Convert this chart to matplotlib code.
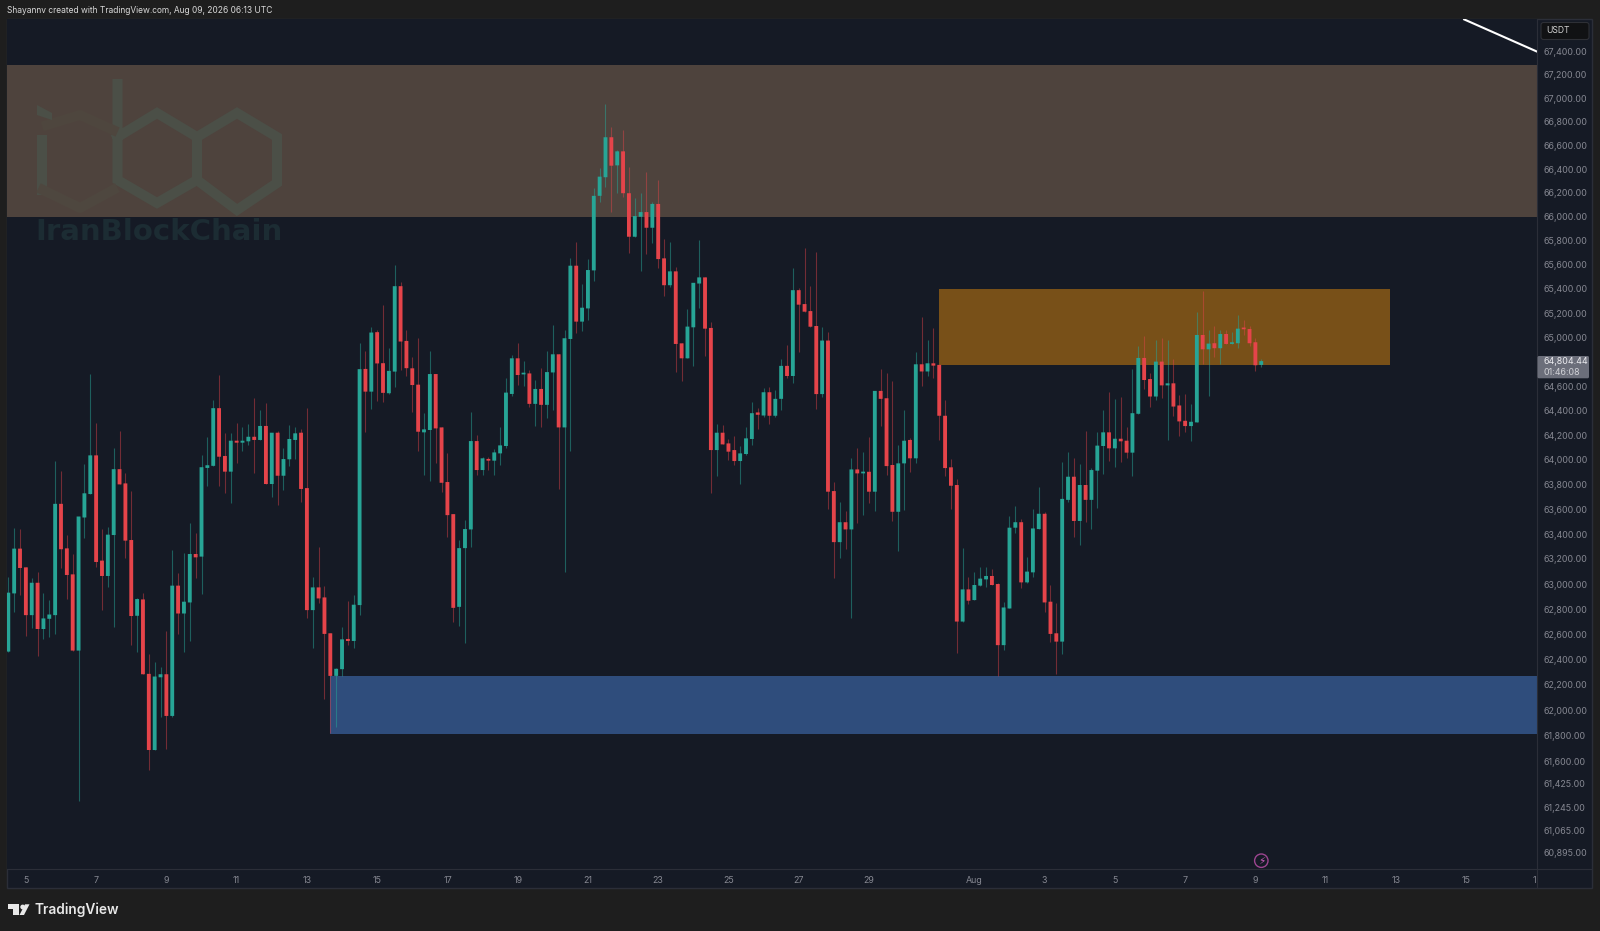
import matplotlib
matplotlib.use("Agg")
import matplotlib.pyplot as plt
import numpy as np
from matplotlib.patches import Rectangle, FancyBboxPatch, Circle, Polygon
from matplotlib.lines import Line2D
from matplotlib.transforms import Affine2D, Bbox

open_prices = [
62463,62925,63283,63133,62752,63010,62642,62723,62752,63643,
63285,63077,62471,63533,63722,64035,63187,63064,63392,63923,
63808,63352,62747,62877,62287,61689,62260,62284,61956,62987,
62765,62853,63240,63219,63933,63950,64419,64030,63903,64154,
64138,64149,64186,64160,64274,63803,64219,63870,64003,64160,
64219,63770,62792,62973,62893,62608,62271,62324,62563,62547,
62832,64740,64554,65042,64787,64541,64718,65422,64970,64745,
64611,64222,64241,64698,64262,63819,63560,62818,63287,63437,
64151,63916,64005,63992,64051,64111,64535,64827,64695,64703,
64454,64576,64446,64711,64860,64262,64986,65592,65129,65238,
65553,66175,66331,66668,66431,66549,66197,65833,66000,66039,
65908,66107,65653,65430,65545,64950,64827,65082,65444,65495,
65077,64078,64219,64132,64078,63989,64046,64168,64384,64359,
64549,64357,64495,64765,64682,65389,65274,65216,65093,64534,
64973,63746,63335,63495,63437,63921,63889,63902,63741,64560,
64500,63957,63579,63970,64160,64011,64778,64719,64786,64773,
64357,63938,63795,62701,62957,62872,62987,63037,63064,63000,
62514,62805,63451,63495,63013,63093,63440,63563,62859,62608,
62542,63675,63862,63505,63795,63675,63911,64111,64222,64092,
64170,64154,64057,64373,64830,64657,64514,64800,64605,64622,
64441,64316,64273,64303,65019,64901,64951,64910,65027,64945,
64951,65079,65068,64959,64773]

high_prices = [
63059,63451,63438,63133,63045,63093,62931,62872,63989,63911,
63392,63240,63541,63965,64699,64300,63438,63459,64098,64235,
63894,63749,62885,62931,62445,62379,62345,62629,63272,63085,
63251,63490,63411,64038,64186,64488,64691,64214,64214,64300,
64268,64290,64499,64400,64461,64219,64235,64092,64282,64263,
64246,64419,63059,63299,62984,62608,62332,62654,62864,62912,
64956,64888,65088,65061,65267,64909,65598,65458,65061,64841,
64992,64378,64888,64698,64262,64057,63560,63352,63513,64384,
64200,64024,64024,64084,64268,64662,64855,64956,64808,64731,
64649,64745,64890,65102,64860,65060,65653,65786,65436,65647,
66239,66411,66950,66758,66563,66730,66420,66155,66197,66372,
66127,66308,65814,65786,65578,64950,65231,65450,65806,65495,
65129,64286,64281,64168,64195,64111,64268,64468,64419,64581,
64595,64568,64820,64936,65575,65411,65736,65422,65703,65082,
65041,63816,63660,63587,64016,64092,64059,64186,64560,64738,
64703,64641,64119,64405,64173,64877,65170,64978,65074,64773,
64486,64003,63840,63285,63053,63093,63133,63139,63117,63011,
62858,63547,63622,63519,63219,63600,63781,63581,62992,62851,
63984,64065,64011,63962,64235,63930,64222,64405,64547,64495,
64514,64268,64738,64932,65011,64710,64978,64992,64978,64822,
64527,64535,64454,65205,65381,65060,65093,65060,65060,65047,
65184,65145,65093,64992,64819]

low_prices = [
62463,62780,62912,62590,62647,62429,62560,62582,62600,63125,
62880,62471,61290,63370,63722,63139,62792,62979,62660,63800,
63205,62515,62463,62284,61532,61689,61951,61695,61951,62603,
62456,62547,63045,62917,63789,63950,63787,63728,63648,63970,
64070,64119,63889,64160,63803,63696,63635,63755,63950,64005,
63656,62731,62494,62851,62090,61821,61873,62271,62515,62494,
62757,64228,64413,64478,64472,64535,64595,64732,64683,64384,
64073,63876,63830,63970,63741,63376,62699,62666,62533,63297,
63876,63876,63916,63876,63957,64092,64519,64608,64600,64432,
64273,64268,64338,64405,63760,63092,64070,65033,65055,65142,
65464,66127,66247,66042,66197,66169,65695,65833,65547,65689,
65783,65575,65344,65417,64718,64641,64827,64760,65238,64846,
63727,63868,64124,63997,63957,63803,64038,64119,64249,64343,
64286,64346,64405,64662,64627,64882,65211,65087,64414,64513,
63600,63051,63210,63277,62731,63491,63555,63648,63589,64276,
63876,63507,63262,63595,63902,63976,64600,64684,64662,64160,
63870,63600,62453,62701,62841,62872,62987,62979,62992,62270,
62479,62805,63411,62971,63005,63053,63440,62780,62542,62289,
62445,63656,63379,63312,63500,63440,63608,63881,63989,63938,
63984,64016,63870,64373,64573,64432,64486,64500,64160,64357,
64192,64224,64154,64303,64781,64519,64836,64781,64945,64945,
64915,65019,64929,64723,64759]

close_prices = [
62931,63283,63128,62752,63010,62642,62726,62757,63643,63278,
63072,62471,63541,63728,64035,63176,63064,63395,63923,63800,
63347,62745,62880,62284,61689,62266,62284,61956,62987,62765,
62859,63240,63213,63939,63955,64419,64024,63903,64154,64138,
64154,64186,64160,64274,63803,64219,63870,64005,64168,64214,
63763,62792,62973,62885,62603,62271,62327,62560,62547,62835,
64738,64554,65039,64785,64544,64724,65422,64965,64746,64608,
64227,64246,64698,64254,63813,63552,62810,63287,63440,64151,
63916,64011,63992,64059,64116,64546,64827,64690,64703,64454,
64576,64446,64714,64860,64262,64992,65592,65129,65244,65556,
66175,66336,66668,66428,66549,66197,65833,66006,66039,65908,
66107,65647,65430,65545,64945,64827,65088,65450,65495,65071,
64078,64219,64124,64065,63989,64051,64173,64378,64365,64549,
64357,64495,64765,64682,65389,65269,65211,65087,64534,64973,
63741,63335,63495,63437,63921,63889,63902,63741,64560,64495,
63948,63579,63970,64154,64011,64778,64719,64786,64767,64357,
63932,63789,62701,62957,62867,62992,63043,63064,62992,62514,
62813,63451,63495,63013,63099,63445,63563,62853,62603,62542,
63683,63862,63505,63795,63675,63916,64114,64222,64092,64170,
64149,64057,64378,64830,64649,64514,64800,64605,64622,64432,
64311,64273,64308,65019,64901,64948,64910,65027,64945,64956,
65071,65066,64951,64770,64804]

price_ticks = [67400,67200,67000,66800,66600,66400,66200,66000,65800,65600,65400,65200,
               65000,64800,64600,64400,64200,64000,63800,63600,63400,63200,63000,62800,
               62600,62400,62200,62000,61800,61600,61425,61245,61065,60895]
date_tick_pos = [3,15,27,39,51,63,75,87,99,111,123,135,147,165,177,189,201,213,225,237,249,261]
date_tick_labels = ["5","7","9","11","13","15","17","19","21","23","25","27","29","Aug",
                    "3","5","7","9","11","13","15","17"]

zone_supply = dict(start=-0.17, end=261.15, top=67281, bottom=66000)
zone_orange = dict(start=158.96, end=236.0, top=65400, bottom=64773)
zone_blue = dict(start=54.95, end=261.15, top=62272, bottom=61815)
trend_x = [248.5, 261.15]
trend_y = [67674, 67394]
last_price_label = "64,804.44"
countdown_label = "01:46:08"

FONT = "Inter"
BG_OUT = "#1e1e1e"
BG = "#151a25"
FRAME = "#2b2e38"
UP = "#27a596"
DOWN = "#e5444a"
AXIS_TEXT = "#868892"

W, H = 1600, 931
fig = plt.figure(figsize=(16, 9.31), dpi=100, facecolor=BG_OUT)
px = Affine2D().scale(1, -1).translate(0, H)

L, T, R, B = 7.3, 19.0, 1537.3, 869.3
ax = fig.add_axes([L / W, (H - B) / H, (R - L) / W, (B - T) / H], facecolor=BG)
fig.add_artist(Rectangle((L, T), 1591.7 - L, 888.3 - T, transform=px, facecolor=BG,
                         edgecolor=FRAME, lw=1.0, zorder=-1))

x = np.arange(len(open_prices))
o, h, l, c = map(np.array, (open_prices, high_prices, low_prices, close_prices))
up = c >= o

ax.set_yscale("log")
for z, col in ((zone_supply, "#4e433d"), (zone_orange, "#785018"), (zone_blue, "#2f4d7c")):
    ax.add_patch(Rectangle((z["start"], z["bottom"]), z["end"] - z["start"], z["top"] - z["bottom"],
                           facecolor=col, edgecolor="none", zorder=1))

ax.vlines(x[up], l[up], h[up], color=UP, alpha=0.5, lw=0.8, zorder=2)
ax.vlines(x[~up], l[~up], h[~up], color=DOWN, alpha=0.45, lw=0.8, zorder=2)
top = np.maximum(o, c); bot = np.minimum(o, c)
minh = np.maximum(top - bot, 14)
for mask, col in ((up, UP), (~up, DOWN)):
    bars = ax.bar(x[mask], minh[mask], bottom=bot[mask], width=0.66, color=col, linewidth=0, zorder=3)
    for b in bars:
        b.set_snap(False)
ax.plot(trend_x, trend_y, color="white", lw=1.5, zorder=4, solid_capstyle="butt")

ax.set_xlim(-0.17, 261.15)
ax.set_ylim(60764, 67674)
ax.minorticks_off()
ax.yaxis.tick_right()
ax.set_yticks(price_ticks)
ax.set_yticklabels([f"{p:,.2f}" for p in price_ticks], fontfamily=FONT, fontsize=6.4, color=AXIS_TEXT)
ax.tick_params(axis="y", which="both", length=0, pad=4.5)
ax.tick_params(axis="y", which="minor", labelright=False)
ax.set_xticks(date_tick_pos)
ax.set_xticklabels(date_tick_labels, fontfamily=FONT, fontsize=6.4, color=AXIS_TEXT)
ax.tick_params(axis="x", length=0, pad=4.5)
for s in ax.spines.values():
    s.set_visible(False)
last_lab = ax.xaxis.get_majorticklabels()[-1]
last_lab.set_clip_box(Bbox([[0, 0], [R - 1.2, H]]))
last_lab.set_clip_on(True)

fig.add_artist(Line2D([R, R], [T, 888.3], transform=px, color=FRAME, lw=0.8, zorder=2))
fig.add_artist(Line2D([L, 1591.7], [B, B], transform=px, color=FRAME, lw=0.8, zorder=2))

fig.text(7, 10.8, "Shayannv created with TradingView.com, Aug 09, 2026 06:13 UTC", transform=px,
         family=FONT, fontsize=6.05, color="#d8d8d8", va="center", ha="left")

# currency box
fig.add_artist(FancyBboxPatch((1541, 22.5), 48, 17, boxstyle="round,pad=0,rounding_size=2.5", transform=px,
                              facecolor="#111214", edgecolor="#2e3036", lw=0.8, zorder=3))
fig.text(1546, 30.8, "USDT", transform=px, family=FONT, fontsize=6.2, color="#d0d0d0", va="center", zorder=4)

# last price tag
fig.add_artist(FancyBboxPatch((1537.5, 356), 51.5, 22.3, boxstyle="round,pad=0,rounding_size=1.5", transform=px,
                              facecolor="#6b6e7a", edgecolor="none", zorder=3))
fig.text(1543.5, 362, last_price_label, transform=px, family=FONT, fontsize=6.4, color="#ececf0", va="center", zorder=4)
fig.text(1543.5, 372.3, countdown_label, transform=px, family=FONT, fontsize=6.4, color="#d0d1d6", va="center", zorder=4)

# watermark
wm = "#4b4f47"
wm_lw = 10
paths = [
    [(41.7, 140), (41.7, 190)],
    [(117.5, 84), (117.5, 180), (157, 203), (197, 180), (197, 137), (157, 113), (117.5, 137)],
    [(197, 137), (237, 113), (277, 137), (277, 183), (237, 210), (197, 180)],
]
for pth in paths:
    xs, ys = zip(*pth)
    fig.add_artist(Line2D(xs, ys, transform=px, color=wm, lw=wm_lw * 0.72, zorder=2, solid_joinstyle="miter"))
xs, ys = zip(*[(43, 190), (80, 208), (113, 190)])
fig.add_artist(Line2D(xs, ys, transform=px, color="#4e473f", lw=wm_lw * 0.72, zorder=2))
xs, ys = zip(*[(47, 125), (80, 115), (113, 130)])
fig.add_artist(Line2D(xs, ys, transform=px, color="#4e463e", lw=wm_lw * 0.72, zorder=2))
fig.add_artist(Polygon([(37, 105), (52, 113), (52, 120), (37, 115)], transform=px, facecolor=wm, edgecolor="none", zorder=2))
fig.text(35, 232.5, "IranBlockChain", transform=px, family="DejaVu Sans", fontweight="bold", fontsize=21,
         color="#1c2c33", va="center", ha="left", zorder=2)

# lightning marker
fig.add_artist(Circle((1261.3, 860.7), 6.7, transform=px, facecolor="none", edgecolor="#9c4590", lw=1.0, zorder=4))
fig.text(1261.3, 860.7, "\u26a1", transform=px, family="DejaVu Sans", fontsize=7.5, color="#d060c0",
         ha="center", va="center", zorder=4)

# brand
logo = "#e8e8e8"
fig.add_artist(Polygon([(8.3, 904.3), (19, 904.3), (19, 915), (13.3, 915), (13.3, 909.3), (8.3, 909.3)],
                       transform=px, facecolor=logo, edgecolor="none", zorder=4))
fig.add_artist(Circle((22.7, 907), 2.4, transform=px, facecolor=logo, edgecolor="none", zorder=4))
fig.add_artist(Polygon([(25, 904.3), (29.5, 904.3), (24, 915), (19.5, 915)], transform=px, facecolor=logo,
                       edgecolor="none", zorder=4))
fig.text(34.5, 910, "TradingView", transform=px, family=FONT, fontweight="semibold", fontsize=9.9,
         color=logo, va="center", ha="left", zorder=4)

fig.savefig("out.png", dpi=100, facecolor=fig.get_facecolor())
